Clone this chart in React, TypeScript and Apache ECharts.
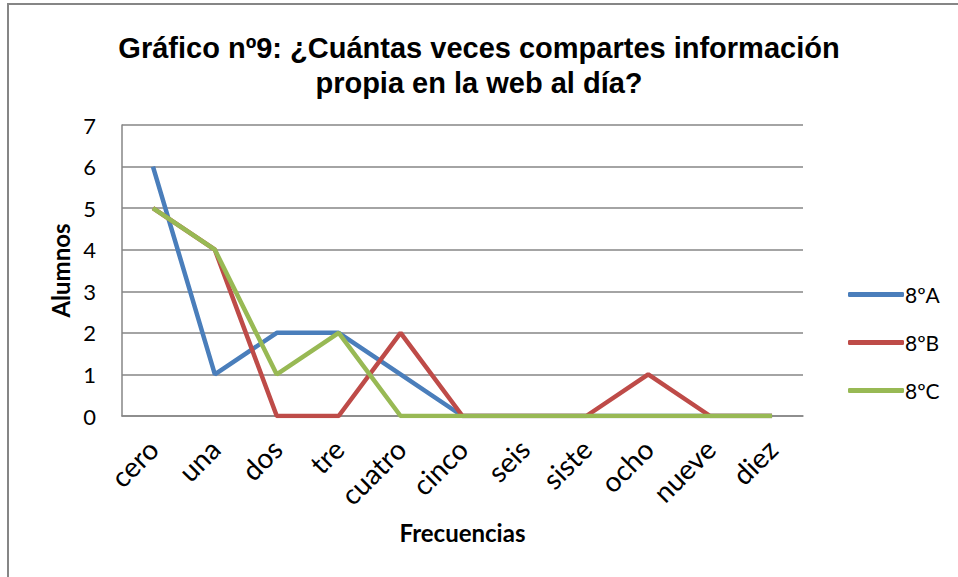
import React, { useEffect, useRef } from "react";
import * as echarts from "echarts";

const categories = ["cero", "una", "dos", "tre", "cuatro", "cinco", "seis", "siste", "ocho", "nueve", "diez"];
const serieA = [6, 1, 2, 2, 1, 0, 0, 0, 0, 0, 0];
const serieB = [5, 4, 0, 0, 2, 0, 0, 0, 1, 0, 0];
const serieC = [5, 4, 1, 2, 0, 0, 0, 0, 0, 0, 0];
const seriesNames = ["8ºA", "8ºB", "8ºC"];
const colors = ["#4A7EBB", "#BE4B48", "#98B954"];
const yTicks = { min: 0, max: 7, interval: 1 };

const bodyFont = "Lato, 'Open Sans', sans-serif";
const titleFont = "'Liberation Sans', Arial, sans-serif";

export default function App() {
  const ref = useRef<HTMLDivElement>(null);
  useEffect(() => {
    if (!ref.current) return;
    const chart = echarts.init(ref.current, undefined, { renderer: "svg" });
    const values = [serieA, serieB, serieC];
    chart.setOption({
      animation: false,
      backgroundColor: "#ffffff",
      title: {
        text: "Gráfico nº9: ¿Cuántas veces compartes información\npropia en la web al día?",
        left: "center",
        top: 25,
        textStyle: {
          fontFamily: titleFont,
          fontWeight: "bold",
          fontSize: 29,
          lineHeight: 35,
          color: "#000",
        },
      },
      graphic: [
        {
          type: "rect",
          shape: { x: 8, y: 4, width: 1000, height: 700 },
          style: { fill: "none", stroke: "#868686", lineWidth: 2 },
          silent: true,
          z: 100,
        },
      ],
      legend: {
        orient: "vertical",
        left: 843,
        top: 279,
        itemGap: 27,
        itemWidth: 56,
        itemHeight: 5,
        icon: "roundRect",
        textStyle: { fontFamily: bodyFont, fontSize: 21, color: "#000", padding: [0, 0, 0, -4] },
        data: seriesNames,
      },
      grid: { left: 122, right: 155, top: 125, bottom: 161, containLabel: false },
      xAxis: {
        type: "category",
        data: categories,
        boundaryGap: true,
        name: "Frecuencias",
        nameLocation: "middle",
        nameGap: 104,
        nameTextStyle: { fontFamily: bodyFont, fontWeight: "bold", fontSize: 24, color: "#000" },
        axisLine: { lineStyle: { color: "#868686", width: 1.5 } },
        axisTick: { show: false },
        axisLabel: {
          rotate: 45,
          margin: 28,
          fontFamily: bodyFont,
          fontSize: 28,
          color: "#000",
        },
      },
      yAxis: {
        type: "value",
        min: yTicks.min,
        max: yTicks.max,
        interval: yTicks.interval,
        name: "Alumnos",
        nameLocation: "middle",
        nameGap: 49,
        nameRotate: 90,
        nameTextStyle: { fontFamily: bodyFont, fontWeight: "bold", fontSize: 24, color: "#000" },
        axisLine: { show: true, lineStyle: { color: "#868686", width: 1.5 } },
        axisTick: { show: false },
        splitLine: { lineStyle: { color: "#868686", width: 1.5 } },
        axisLabel: { margin: 26, fontFamily: bodyFont, fontSize: 22, color: "#000" },
      },
      series: seriesNames.map((name, i) => ({
        name,
        type: "line",
        data: values[i],
        showSymbol: false,
        symbol: "none",
        lineStyle: { color: colors[i], width: 4.5 },
        itemStyle: { color: colors[i] },
      })),
    });
    return () => chart.dispose();
  }, []);
  return (
    <div
      ref={ref}
      style={{ position: "absolute", left: 0, top: 0, width: 958, height: 577 }}
    />
  );
}
